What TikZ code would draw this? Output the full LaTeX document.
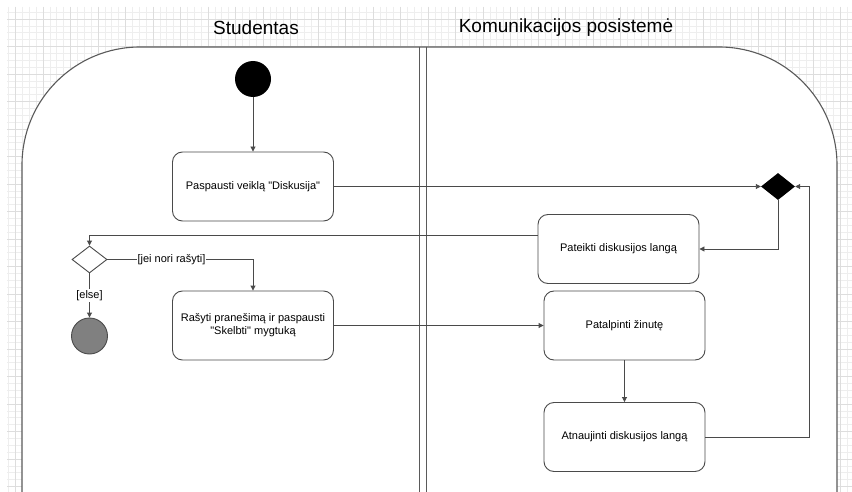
\documentclass[tikz,border=0pt]{standalone}
\usepackage{fontspec}
\setmainfont{Liberation Sans}[Ligatures=TeXOff]
\usetikzlibrary{arrows.meta,shapes.geometric}
\definecolor{linec}{HTML}{4A4A4A}
\definecolor{lanec}{HTML}{5A5A5A}
\definecolor{gridminor}{HTML}{EEEEEE}
\definecolor{gridmajor}{HTML}{DDDDDD}
\definecolor{endgray}{HTML}{808080}
\begin{document}
\begin{tikzpicture}[x=1pt,y=-1pt,
  every node/.style={font=\fontsize{11}{13}\selectfont, text=black},
  act/.style={draw=linec, line width=0.9pt, rounded corners=10pt, fill=white,
    minimum width=161pt, minimum height=69pt, align=center, inner sep=2pt},
  flow/.style={draw=linec, line width=0.9pt, -{Triangle[length=5pt,width=5pt]}},
  lbl/.style={fill=white, inner sep=1pt},
  heading/.style={font=\fontsize{19}{22}\selectfont},
  lane/.style={draw=lanec, line width=1.1pt}
]
\useasboundingbox (0,0) rectangle (852,492);
\fill[white] (0,0) rectangle (852,492);

% graph-paper background
\foreach \i in {0,...,122} {
  \draw[gridminor, line width=0.6pt] ({8.6+\i*6.875},7) -- ({8.6+\i*6.875},492);
}
\foreach \j in {0,...,70} {
  \draw[gridminor, line width=0.6pt] (7,{12.1+\j*6.875}) -- (852,{12.1+\j*6.875});
}
\foreach \i in {0,...,30} {
  \draw[gridmajor, line width=0.8pt] ({15.5+\i*27.5},7) -- ({15.5+\i*27.5},492);
}
\foreach \j in {0,...,17} {
  \draw[gridmajor, line width=0.8pt] (7,{19+\j*27.5}) -- (852,{19+\j*27.5});
}

% swimlane frame and lane divider
\filldraw[lane, fill=white, rounded corners=118pt]
  (22,494) -- (22,47) -- (837,47) -- (837,494);
\draw[lane] (419.5,47) -- (419.5,493);
\draw[lane] (426.5,47) -- (426.5,493);

% lane headings
\node[heading] (hstud) at (256,28) {Studentas};
\node[heading] (hkom) at (566,28) {Komunikacijos posistemė};

% activity nodes
\node[circle, fill=black, minimum size=36pt, inner sep=0pt] (start) at (253,79) {};
\node[act] (b1) at (253,186.5) {Paspausti veiklą "Diskusija"};
\node[diamond, fill=black, minimum width=34pt, minimum height=27pt, inner sep=0pt] (merge) at (778,186.5) {};
\node[act] (b2) at (618.5,249) {Pateikti diskusijos langą};
\node[diamond, draw=linec, line width=0.9pt, fill=white, minimum width=35pt, minimum height=27pt, inner sep=0pt] (dec) at (89.5,259.5) {};
\node[act] (b3) at (253,325.5) {Rašyti pranešimą ir paspausti\\"Skelbti" mygtuką};
\node[circle, draw=linec, line width=0.9pt, fill=endgray, minimum size=36pt, inner sep=0pt] (final) at (89.5,336) {};
\node[act] (b4) at (624.5,325.5) {Patalpinti žinutę};
\node[act] (b5) at (624.5,437) {Atnaujinti diskusijos langą};
\coordinate (loop) at (809,186.5);

% control flow
\draw[flow] (start) -- (b1);
\draw[flow] (b1) -- (merge);
\draw[flow] (merge.south) |- (b2.east);
\draw[flow] ([yshift=14pt]b2.west) -| (dec.north);
\draw[flow] (dec.east) -| node[lbl, pos=0.22] {[jei nori rašyti]} (b3.north);
\draw[flow] (dec.south) -- node[lbl] {[else]} (final.north);
\draw[flow] (b3) -- (b4);
\draw[flow] (b4) -- (b5);
\draw[flow] (b5.east) -| (loop) -- (merge.east);
\end{tikzpicture}
\end{document}
